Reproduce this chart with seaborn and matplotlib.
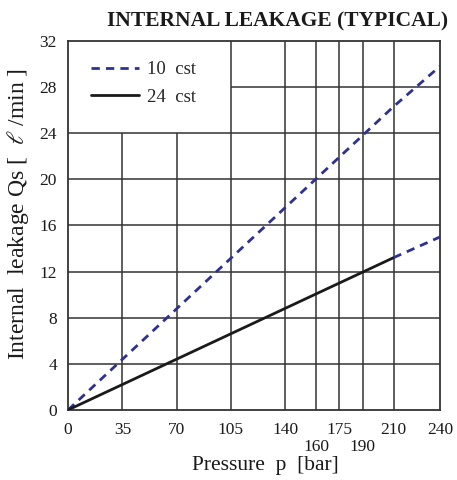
import numpy as np
import pandas as pd
import matplotlib
matplotlib.use("Agg")
import matplotlib.pyplot as plt
import seaborn as sns

# data
pressure = [0, 210, 240]
leak_10cst = [0, 26.3, 29.8]
leak_24cst = [0, 13.2, 15.0]

x_ticks = [0, 35, 70, 105, 140, 160, 175, 190, 210, 240]
y_ticks = [0, 4, 8, 12, 16, 20, 24, 28, 32]

sns.set_theme(style="white")
plt.rcParams['font.family'] = ['Liberation Serif', 'DejaVu Serif']
plt.rcParams['mathtext.fontset'] = 'stix'

fig = plt.figure(figsize=(4.57, 4.80), dpi=100)
ax = fig.add_axes([0.149, 0.146, 0.814, 0.769])

gc = "#333333"
# grid, leaving the legend corner empty
for y in y_ticks[1:-1]:
    if y == 28:
        ax.hlines(y, 105, 240, color=gc, lw=1.1, zorder=1)
    else:
        ax.hlines(y, 0, 240, color=gc, lw=1.1, zorder=1)
for x in x_ticks[1:-1]:
    if x < 105:
        ax.vlines(x, 0, 24, color=gc, lw=1.1, zorder=1)
    else:
        ax.vlines(x, 0, 32, color=gc, lw=1.1, zorder=1)

df10 = pd.DataFrame({"p": pressure, "q": leak_10cst})
df24 = pd.DataFrame({"p": pressure[:2], "q": leak_24cst[:2]})
df24b = pd.DataFrame({"p": pressure[1:], "q": leak_24cst[1:]})

sns.lineplot(data=df10, x="p", y="q", ax=ax, color="#2e3192", lw=2,
             linestyle=(0, (3, 2.2)), label="10  cst", zorder=3)
sns.lineplot(data=df24, x="p", y="q", ax=ax, color="#1a1a1a", lw=2,
             label="24  cst", zorder=3)
sns.lineplot(data=df24b, x="p", y="q", ax=ax, color="#2e3192", lw=2,
             linestyle=(0, (3, 2.2)), zorder=3)

ax.set_xlim(0, 240)
ax.set_ylim(0, 32)
ax.set_xticks(x_ticks)
ax.set_yticks(y_ticks)
ax.set_yticklabels([str(v) for v in y_ticks], fontsize=12.5)
ax.set_xticklabels([str(v) for v in x_ticks], fontsize=12.5)
for lab in ax.get_xticklabels():
    if lab.get_text() in ("160", "190"):
        lab.set_y(-0.045)
ax.tick_params(length=0, colors="#1a1a1a")
ax.tick_params(axis="x", pad=9)
ax.tick_params(axis="y", pad=8)

for s in ax.spines.values():
    s.set_color(gc)
    s.set_linewidth(1.3)
    s.set_visible(True)

ax.set_xlabel("Pressure  p  [bar]", fontsize=15.5, color="#1a1a1a")
ax.xaxis.set_label_coords(0.53, -0.125)
ax.set_ylabel("Internal  leakage Qs [  $\\ell$ /min ]", fontsize=17,
              color="#1a1a1a")
ax.yaxis.set_label_coords(-0.10, 0.53)
ax.set_title("INTERNAL LEAKAGE (TYPICAL)", fontsize=15.5, fontweight="bold",
             color="#1a1a1a", pad=10, x=0.562)

ax.legend(loc="upper left", bbox_to_anchor=(0.015, 0.99), frameon=False,
          fontsize=13.5, handlelength=2.6, labelspacing=0.55, handletextpad=0.4)

fig.savefig("out.png", dpi=100)
